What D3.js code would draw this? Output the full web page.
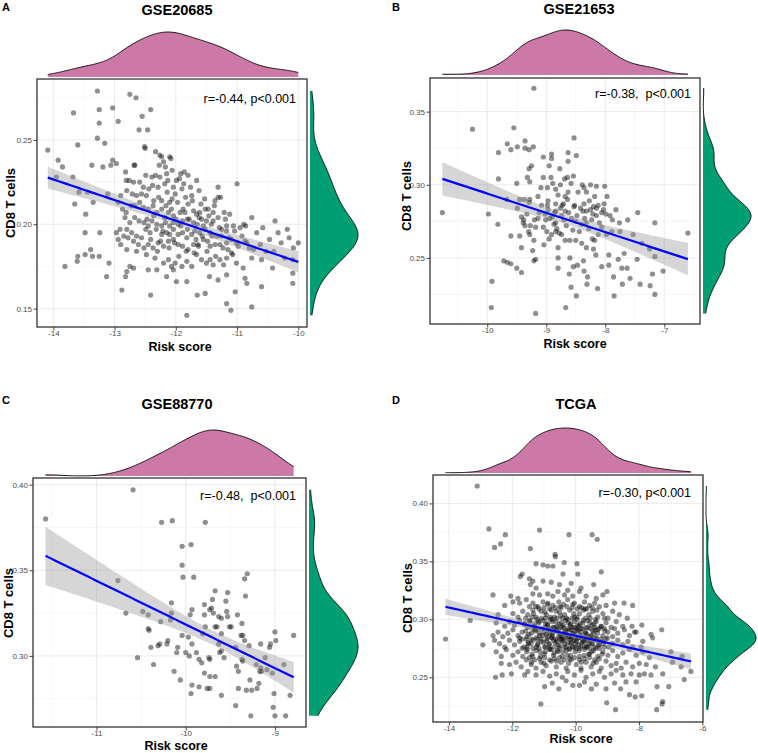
<!DOCTYPE html>
<html><head><meta charset="utf-8">
<script src="https://cdn.jsdelivr.net/npm/d3@7"></script>
<style>body{margin:0;background:#fff}svg{display:block;font-family:"Liberation Sans",Arial,Helvetica,sans-serif}</style>
</head><body><svg id="c" width="758" height="753"></svg>
<script>
// ---------------- data ----------------
const panelLetters = ["A", "B", "C", "D"];
const panelTitles = ["GSE20685", "GSE21653", "GSE88770", "TCGA"];
const statLabels = ["r=-0.44, p<0.001", "r=-0.38,  p<0.001", "r=-0.48,  p<0.001", "r=-0.30, p<0.001"];
const xAxisTitle = "Risk score";
const yAxisTitle = "CD8 T cells";

const xTicksA = [-14, -13, -12, -11, -10];
const yTicksA = [0.15, 0.20, 0.25];
const xTicksB = [-10, -9, -8, -7];
const yTicksB = [0.25, 0.30, 0.35];
const xTicksC = [-11, -10, -9];
const yTicksC = [0.30, 0.35, 0.40];
const xTicksD = [-14, -12, -10, -8, -6];
const yTicksD = [0.25, 0.30, 0.35, 0.40];

// [Risk score, CD8 T cells]
const gse20685Points = [[-13.28,0.279],[-12.75,0.277],[-12.65,0.275],[-13.25,0.268],[-13.03,0.269],[-13.67,0.266],[-12.41,0.268],[-12.94,0.261],[-13.25,0.260],[-12.55,0.264],[-12.60,0.256],[-12.46,0.256],[-13.28,0.251],[-13.16,0.248],[-13.60,0.247],[-14.09,0.244],[-12.51,0.246],[-12.50,0.245],[-12.33,0.243],[-13.92,0.238],[-13.85,0.234],[-13.37,0.235],[-13.19,0.234],[-13.06,0.235],[-13.03,0.238],[-12.97,0.236],[-12.68,0.235],[-12.67,0.235],[-12.26,0.241],[-12.23,0.240],[-12.10,0.240],[-12.08,0.239],[-12.20,0.237],[-12.27,0.235],[-12.17,0.234],[-12.06,0.232],[-12.15,0.230],[-12.26,0.228],[-12.13,0.226],[-12.39,0.228],[-12.82,0.231],[-12.76,0.226],[-12.81,0.226],[-12.69,0.225],[-12.59,0.225],[-12.49,0.229],[-12.53,0.222],[-12.38,0.223],[-12.29,0.222],[-11.94,0.227],[-11.92,0.230],[-11.86,0.231],[-11.66,0.226],[-11.62,0.220],[-11.74,0.217],[-11.90,0.221],[-11.84,0.216],[-12.04,0.222],[-12.01,0.218],[-12.10,0.213],[-12.23,0.214],[-12.36,0.214],[-12.48,0.217],[-12.56,0.218],[-12.64,0.217],[-12.71,0.218],[-12.80,0.220],[-12.90,0.217],[-13.11,0.218],[-13.35,0.213],[-13.44,0.219],[-13.58,0.219],[-13.65,0.212],[-13.68,0.228],[-13.95,0.228],[-13.47,0.206],[-12.94,0.213],[-12.87,0.209],[-12.81,0.207],[-12.73,0.211],[-12.67,0.211],[-12.59,0.213],[-12.53,0.210],[-12.45,0.209],[-12.37,0.211],[-12.31,0.207],[-12.23,0.209],[-12.18,0.204],[-12.12,0.207],[-12.04,0.205],[-11.93,0.207],[-11.85,0.207],[-11.80,0.212],[-11.71,0.208],[-11.66,0.206],[-11.61,0.207],[-11.52,0.209],[-11.47,0.209],[-11.39,0.207],[-11.31,0.204],[-11.31,0.222],[-11.00,0.224],[-11.12,0.206],[-11.17,0.199],[-11.39,0.202],[-11.50,0.202],[-11.58,0.203],[-11.65,0.200],[-11.71,0.201],[-11.81,0.203],[-11.89,0.202],[-11.96,0.200],[-12.04,0.201],[-12.10,0.199],[-12.17,0.201],[-12.23,0.199],[-12.31,0.200],[-12.39,0.202],[-12.45,0.199],[-12.52,0.201],[-12.60,0.202],[-12.67,0.204],[-12.75,0.201],[-12.83,0.204],[-12.91,0.197],[-12.80,0.197],[-12.72,0.195],[-12.64,0.193],[-12.56,0.192],[-12.49,0.197],[-12.42,0.195],[-12.32,0.197],[-12.23,0.194],[-12.15,0.195],[-12.10,0.194],[-12.04,0.197],[-11.96,0.194],[-11.89,0.195],[-11.82,0.192],[-11.74,0.194],[-11.67,0.191],[-11.61,0.195],[-11.52,0.197],[-11.44,0.195],[-11.33,0.193],[-11.25,0.197],[-11.17,0.196],[-11.06,0.199],[-10.95,0.198],[-10.86,0.199],[-10.76,0.204],[-10.58,0.198],[-10.38,0.202],[-10.18,0.197],[-10.00,0.189],[-10.08,0.186],[-10.09,0.179],[-10.09,0.171],[-10.42,0.174],[-10.60,0.179],[-10.73,0.185],[-10.87,0.190],[-11.01,0.189],[-11.09,0.191],[-11.17,0.189],[-11.28,0.188],[-11.36,0.188],[-11.44,0.187],[-11.55,0.191],[-11.63,0.187],[-11.71,0.188],[-11.80,0.185],[-11.89,0.187],[-11.96,0.188],[-12.04,0.191],[-12.12,0.190],[-12.20,0.187],[-12.29,0.189],[-12.37,0.186],[-12.45,0.188],[-12.52,0.186],[-12.61,0.188],[-12.69,0.190],[-12.78,0.192],[-12.85,0.193],[-12.94,0.191],[-12.97,0.195],[-13.24,0.195],[-13.48,0.195],[-13.39,0.185],[-13.25,0.181],[-13.36,0.181],[-13.60,0.181],[-13.61,0.178],[-13.81,0.175],[-13.48,0.182],[-13.09,0.177],[-12.90,0.188],[-12.80,0.185],[-12.64,0.184],[-12.48,0.182],[-12.34,0.180],[-12.20,0.177],[-12.12,0.179],[-12.07,0.175],[-12.01,0.177],[-11.90,0.175],[-11.82,0.178],[-11.74,0.175],[-11.66,0.182],[-11.58,0.179],[-11.50,0.177],[-11.44,0.179],[-11.39,0.176],[-11.28,0.179],[-11.22,0.176],[-11.17,0.180],[-11.09,0.183],[-11.01,0.177],[-10.90,0.174],[-10.87,0.168],[-10.84,0.165],[-10.76,0.180],[-10.60,0.163],[-11.03,0.160],[-11.17,0.170],[-11.31,0.167],[-11.45,0.169],[-11.52,0.159],[-11.65,0.158],[-11.82,0.166],[-11.99,0.166],[-12.15,0.169],[-12.04,0.173],[-12.31,0.173],[-12.45,0.173],[-12.69,0.174],[-12.75,0.175],[-12.80,0.172],[-12.82,0.169],[-12.88,0.161],[-13.13,0.169],[-12.41,0.158],[-11.82,0.146],[-11.17,0.153],[-11.10,0.149],[-10.76,0.151],[-11.31,0.216],[-11.36,0.214],[-10.09,0.165],[-10.33,0.195],[-10.53,0.184],[-10.89,0.200],[-10.84,0.189],
[-12.44,0.221],[-12.36,0.205],[-12.28,0.216],[-12.21,0.196],[-12.14,0.219],[-12.07,0.209],[-12.02,0.189],[-11.97,0.213],[-11.92,0.199],[-11.87,0.224],[-11.83,0.184],[-11.78,0.203],[-11.73,0.214],[-11.69,0.196],[-11.64,0.188],[-11.59,0.212],[-11.55,0.199],[-11.49,0.184],[-11.46,0.205],[-11.41,0.193],[-11.35,0.181],[-11.29,0.198],[-11.23,0.186],[-11.19,0.203],[-11.13,0.192],[-11.07,0.182],[-11.04,0.196],[-10.98,0.187],[-12.33,0.229],[-12.25,0.190],[-12.18,0.224],[-12.11,0.186],[-12.06,0.215],[-12.00,0.203],[-11.95,0.181],[-11.88,0.209],[-11.81,0.197],[-11.76,0.222],[-11.70,0.183],[-11.62,0.204],[-11.57,0.193],[-11.53,0.215],[-11.48,0.190],[-11.42,0.200],[-11.37,0.211],[-11.26,0.193],[-11.21,0.207],[-11.15,0.185],[-12.41,0.191],[-12.30,0.184],[-12.47,0.203],[-12.16,0.211],[-11.99,0.226],[-11.80,0.229],[-11.27,0.216],[-10.92,0.193],[-10.80,0.186],[-10.68,0.195],[-10.62,0.188],[-10.47,0.191],[-10.40,0.184],[-10.28,0.189],[-10.22,0.180],[-10.15,0.192]];

const gse21653Points = [[-9.21,0.366],[-10.25,0.338],[-9.55,0.339],[-9.66,0.328],[-9.60,0.324],[-9.49,0.326],[-9.36,0.330],[-9.36,0.325],[-9.29,0.324],[-9.22,0.326],[-9.81,0.322],[-8.53,0.332],[-9.05,0.319],[-8.91,0.321],[-8.91,0.318],[-8.63,0.322],[-8.49,0.320],[-8.77,0.311],[-8.63,0.316],[-9.29,0.311],[-9.25,0.313],[-8.95,0.313],[-9.81,0.304],[-9.50,0.301],[-9.32,0.305],[-9.28,0.302],[-9.05,0.305],[-8.92,0.305],[-8.89,0.301],[-8.76,0.300],[-8.69,0.304],[-8.64,0.305],[-8.58,0.301],[-8.54,0.306],[-8.39,0.300],[-8.36,0.298],[-8.25,0.300],[-8.15,0.299],[-8.01,0.299],[-7.97,0.292],[-8.18,0.292],[-8.32,0.295],[-8.46,0.295],[-8.63,0.295],[-8.68,0.292],[-8.80,0.293],[-8.84,0.297],[-8.98,0.298],[-9.09,0.298],[-9.14,0.292],[-9.28,0.290],[-9.37,0.290],[-9.29,0.288],[-8.97,0.289],[-8.98,0.286],[-8.84,0.287],[-8.71,0.287],[-8.53,0.285],[-8.36,0.287],[-8.32,0.282],[-8.20,0.285],[-8.15,0.284],[-8.03,0.283],[-8.15,0.279],[-8.23,0.276],[-8.32,0.274],[-8.40,0.273],[-8.50,0.275],[-8.57,0.277],[-8.68,0.282],[-8.74,0.279],[-8.84,0.274],[-8.87,0.273],[-8.94,0.277],[-9.01,0.276],[-9.14,0.277],[-9.18,0.271],[-9.27,0.272],[-9.38,0.276],[-9.42,0.278],[-9.39,0.274],[-9.36,0.272],[-9.33,0.280],[-9.45,0.290],[-9.98,0.280],[-10.76,0.281],[-9.82,0.273],[-9.60,0.265],[-9.49,0.284],[-9.45,0.265],[-9.42,0.257],[-9.28,0.266],[-9.21,0.262],[-9.23,0.255],[-9.18,0.249],[-9.21,0.248],[-9.72,0.248],[-9.66,0.247],[-9.60,0.246],[-9.50,0.243],[-9.42,0.240],[-9.92,0.234],[-9.93,0.216],[-9.18,0.212],[-8.67,0.216],[-9.04,0.259],[-8.95,0.263],[-8.91,0.266],[-8.84,0.268],[-8.78,0.267],[-8.74,0.266],[-8.68,0.262],[-8.60,0.262],[-8.50,0.262],[-8.40,0.260],[-8.32,0.257],[-8.22,0.263],[-8.18,0.262],[-8.12,0.266],[-8.06,0.271],[-7.98,0.266],[-7.89,0.268],[-7.75,0.268],[-7.76,0.274],[-7.88,0.276],[-7.99,0.280],[-8.06,0.281],[-8.12,0.286],[-8.27,0.289],[-8.64,0.290],[-7.53,0.266],[-7.45,0.281],[-7.16,0.274],[-6.60,0.267],[-7.38,0.260],[-7.25,0.256],[-7.16,0.251],[-7.02,0.241],[-7.20,0.239],[-7.24,0.231],[-7.16,0.225],[-7.41,0.232],[-7.58,0.236],[-7.71,0.232],[-7.72,0.243],[-7.63,0.243],[-7.46,0.249],[-7.68,0.253],[-7.78,0.249],[-7.94,0.252],[-8.06,0.244],[-7.94,0.245],[-7.86,0.237],[-7.85,0.224],[-8.13,0.229],[-8.31,0.232],[-8.30,0.237],[-8.36,0.241],[-8.37,0.248],[-8.47,0.245],[-8.54,0.244],[-8.61,0.239],[-8.80,0.243],[-8.80,0.250],[-8.80,0.257],[-8.60,0.250],[-8.49,0.224],[-8.58,0.230],[-8.16,0.252],[-8.20,0.256],[-9.02,0.280],[-8.84,0.282],[-9.67,0.290],
[-9.12,0.281],[-9.05,0.271],[-8.97,0.283],[-8.90,0.278],[-8.82,0.270],[-8.76,0.284],[-8.70,0.276],[-8.62,0.281],[-8.55,0.269],[-8.48,0.279],[-8.42,0.284],[-8.35,0.277],[-8.28,0.270],[-8.21,0.280],[-8.10,0.274],[-8.02,0.287],[-9.20,0.276],[-9.08,0.286],[-8.86,0.281],[-8.66,0.272],[-8.52,0.286],[-8.44,0.268],[-8.38,0.282],[-8.25,0.283],[-7.92,0.279],[-7.82,0.283],[-7.62,0.276],[-9.30,0.268],[-8.99,0.268],[-8.73,0.286]];

const gse88770Points = [[-11.57,0.380],[-10.59,0.397],[-10.27,0.378],[-10.15,0.379],[-9.78,0.378],[-9.94,0.365],[-10.04,0.364],[-10.04,0.353],[-10.03,0.346],[-9.91,0.346],[-9.31,0.348],[-9.34,0.345],[-9.33,0.335],[-10.76,0.344],[-10.67,0.325],[-10.48,0.326],[-10.42,0.324],[-10.16,0.331],[-10.16,0.325],[-10.28,0.320],[-10.17,0.321],[-10.42,0.316],[-9.95,0.324],[-9.93,0.327],[-9.79,0.330],[-9.73,0.327],[-9.71,0.328],[-9.67,0.338],[-9.70,0.333],[-9.79,0.324],[-9.69,0.325],[-9.63,0.323],[-9.60,0.322],[-9.53,0.337],[-9.55,0.332],[-9.54,0.326],[-9.53,0.323],[-9.51,0.317],[-9.49,0.317],[-9.42,0.324],[-9.37,0.319],[-9.36,0.312],[-9.38,0.312],[-9.34,0.309],[-9.29,0.306],[-9.16,0.307],[-9.06,0.305],[-9.00,0.314],[-8.99,0.309],[-8.79,0.312],[-8.83,0.277],[-8.88,0.265],[-9.00,0.265],[-9.02,0.270],[-9.01,0.278],[-9.03,0.290],[-9.09,0.292],[-9.16,0.293],[-9.15,0.291],[-9.21,0.295],[-9.11,0.299],[-9.28,0.286],[-9.20,0.281],[-9.26,0.280],[-9.32,0.280],[-9.27,0.265],[-9.44,0.271],[-9.41,0.281],[-9.41,0.291],[-9.43,0.294],[-9.36,0.297],[-9.37,0.298],[-9.44,0.305],[-9.57,0.299],[-9.60,0.303],[-9.60,0.277],[-9.67,0.288],[-9.73,0.281],[-9.76,0.281],[-9.85,0.282],[-9.79,0.290],[-9.73,0.288],[-9.73,0.298],[-9.74,0.299],[-9.85,0.298],[-9.82,0.296],[-9.88,0.302],[-9.81,0.313],[-9.78,0.317],[-9.67,0.317],[-9.65,0.317],[-9.60,0.313],[-9.63,0.307],[-9.62,0.302],[-10.00,0.302],[-10.10,0.302],[-10.09,0.305],[-10.04,0.312],[-9.97,0.311],[-9.93,0.307],[-10.06,0.286],[-10.13,0.291],[-10.21,0.307],[-10.20,0.309],[-10.31,0.306],[-10.29,0.307],[-10.39,0.305],[-10.36,0.295],[-10.54,0.299],[-10.41,0.315],[-9.94,0.278],[-9.96,0.300],[-8.90,0.295],[-9.05,0.307],[-9.18,0.284],[-9.17,0.291],[-9.93,0.283]];

const tcgaPoints = [[-13.11,0.415],[-14.11,0.283],[-13.33,0.299],[-12.74,0.378],[-12.22,0.373],[-12.37,0.365],[-12.56,0.362],[-11.14,0.377],[-10.21,0.373],[-9.48,0.373],[-9.32,0.369],[-11.43,0.361],[-10.65,0.356],[-10.64,0.354],[-10.36,0.349],[-9.96,0.348],[-11.25,0.348],[-11.03,0.347],[-10.88,0.346],[-10.72,0.346],[-9.19,0.341],[-9.93,0.339],[-10.40,0.339],[-11.69,0.339],[-11.75,0.337],[-11.46,0.335],[-12.61,0.321],[-12.05,0.320],[-9.43,0.330],[-9.01,0.324],[-8.47,0.314],[-8.20,0.312],[-8.62,0.304],[-8.22,0.294],[-7.91,0.295],[-7.62,0.287],[-7.57,0.284],[-7.28,0.291],[-6.99,0.272],[-6.64,0.268],[-6.36,0.255],[-6.57,0.248],[-6.67,0.259],[-6.94,0.263],[-7.06,0.242],[-7.43,0.242],[-7.25,0.229],[-7.27,0.227],[-7.44,0.222],[-7.91,0.234],[-8.12,0.233],[-8.30,0.235],[-8.74,0.222],[-9.02,0.228],[-8.58,0.240],[-11.10,0.227],[-9.04,0.240],[-9.50,0.240],[-9.88,0.243],[-10.53,0.240],[-10.98,0.242],[-11.61,0.252],[-12.32,0.252],[-12.53,0.250],[-12.93,0.278],
[-11.43,0.330],[-11.25,0.327],[-10.77,0.332],[-10.51,0.330],[-10.25,0.325],[-9.83,0.327],[-10.14,0.331],[-11.35,0.333],[-11.03,0.333],
[-11.82,0.318],[-11.35,0.322],[-11.14,0.321],[-10.88,0.322],[-10.72,0.320],[-10.56,0.324],[-10.35,0.321],[-10.09,0.320],[-9.88,0.324],[-9.67,0.320],[-9.35,0.318],[-9.14,0.321],
[-12.24,0.312],[-11.98,0.315],[-11.77,0.314],[-11.56,0.317],[-11.35,0.314],[-11.19,0.311],[-11.03,0.315],[-10.88,0.314],[-10.72,0.312],[-10.53,0.315],[-10.38,0.313],[-10.25,0.317],[-10.04,0.314],[-9.88,0.311],[-9.72,0.315],[-9.56,0.312],[-9.40,0.314],[-9.25,0.311],[-9.04,0.312],[-8.77,0.314],
[-12.45,0.304],[-11.98,0.305],[-11.82,0.302],[-11.67,0.307],[-11.51,0.304],[-11.35,0.308],[-11.25,0.302],[-11.09,0.307],[-10.93,0.304],[-10.77,0.308],[-10.67,0.302],[-10.51,0.306],[-10.35,0.304],[-10.19,0.308],[-10.04,0.302],[-9.88,0.305],[-9.75,0.308],[-9.58,0.304],[-9.46,0.307],[-9.30,0.302],[-9.14,0.305],[-8.98,0.301],[-8.83,0.307],[-8.37,0.301],
[-12.51,0.297],[-12.24,0.294],[-12.09,0.298],[-11.93,0.295],[-11.77,0.299],[-11.61,0.296],[-11.46,0.298],[-11.30,0.294],[-11.16,0.297],[-11.03,0.299],[-10.88,0.295],[-10.74,0.298],[-10.59,0.294],[-10.46,0.297],[-10.32,0.299],[-10.17,0.295],[-10.04,0.298],[-9.90,0.294],[-9.77,0.297],[-9.62,0.299],[-9.48,0.295],[-9.35,0.298],[-9.19,0.294],[-9.04,0.297],[-8.88,0.293],[-8.72,0.298],[-8.51,0.294],[-8.09,0.289],
[-12.61,0.286],[-12.45,0.289],[-12.30,0.285],[-12.14,0.288],[-11.98,0.291],[-11.82,0.286],[-11.69,0.289],[-11.54,0.285],[-11.40,0.288],[-11.27,0.291],[-11.14,0.286],[-11.00,0.289],[-10.88,0.285],[-10.74,0.288],[-10.61,0.291],[-10.48,0.286],[-10.35,0.289],[-10.21,0.285],[-10.09,0.288],[-9.96,0.291],[-9.83,0.286],[-9.69,0.289],[-9.56,0.285],[-9.43,0.288],[-9.30,0.291],[-9.14,0.286],[-8.98,0.289],[-8.83,0.285],[-8.67,0.288],[-8.46,0.291],[-8.30,0.286],[-8.14,0.289],[-8.77,0.292],
[-12.56,0.282],[-12.40,0.279],[-12.24,0.276],[-12.09,0.282],[-11.93,0.278],[-11.77,0.281],[-11.63,0.276],[-11.49,0.279],[-11.35,0.282],[-11.21,0.278],[-11.09,0.281],[-10.95,0.276],[-10.82,0.279],[-10.69,0.282],[-10.56,0.278],[-10.42,0.281],[-10.30,0.276],[-10.16,0.279],[-10.04,0.282],[-9.90,0.278],[-9.77,0.281],[-9.64,0.276],[-9.51,0.279],[-9.37,0.282],[-9.25,0.278],[-9.11,0.281],[-8.95,0.276],[-8.83,0.279],[-8.67,0.282],[-8.51,0.278],[-8.35,0.281],[-8.20,0.276],[-7.93,0.276],[-7.88,0.281],
[-12.51,0.272],[-12.35,0.268],[-12.19,0.274],[-11.98,0.269],[-11.82,0.272],[-11.67,0.268],[-11.53,0.274],[-11.38,0.270],[-11.25,0.273],[-11.11,0.268],[-10.96,0.272],[-10.82,0.274],[-10.70,0.269],[-10.56,0.272],[-10.42,0.268],[-10.30,0.273],[-10.16,0.269],[-10.02,0.272],[-9.88,0.268],[-9.72,0.274],[-9.58,0.270],[-9.44,0.273],[-9.30,0.268],[-9.14,0.272],[-8.98,0.269],[-8.83,0.273],[-8.67,0.268],[-8.51,0.271],[-8.30,0.274],[-8.09,0.269],[-7.88,0.272],[-7.67,0.267],
[-12.35,0.262],[-12.09,0.261],[-11.88,0.263],[-11.72,0.259],[-11.56,0.265],[-11.40,0.261],[-11.25,0.258],[-11.09,0.263],[-10.93,0.260],[-10.77,0.264],[-10.61,0.259],[-10.46,0.263],[-10.30,0.258],[-10.14,0.265],[-9.98,0.261],[-9.83,0.258],[-9.67,0.263],[-9.51,0.259],[-9.35,0.263],[-9.19,0.258],[-9.04,0.264],[-8.88,0.260],[-8.72,0.262],[-8.56,0.258],[-8.41,0.263],[-8.20,0.259],[-7.99,0.262],[-7.77,0.261],[-7.48,0.259],
[-12.03,0.253],[-11.51,0.255],[-11.25,0.252],[-11.03,0.255],[-10.82,0.251],[-10.61,0.253],[-10.42,0.250],[-10.25,0.255],[-10.04,0.252],[-9.83,0.256],[-9.67,0.250],[-9.46,0.253],[-9.25,0.255],[-9.09,0.250],[-8.88,0.253],[-8.72,0.256],[-8.51,0.252],[-8.25,0.253],[-7.99,0.252],[-7.83,0.253],[-7.62,0.252],[-7.25,0.253],
[-10.74,0.245],[-10.30,0.247],[-10.09,0.243],[-9.72,0.246],[-9.35,0.244],[-8.77,0.245],[-8.41,0.246],[-8.09,0.246],
[-11.46,0.311],[-11.16,0.309],[-11.00,0.310],[-10.82,0.309],[-10.64,0.310],[-10.46,0.310],[-10.28,0.311],[-10.11,0.310],[-9.95,0.309],[-9.81,0.310],[-9.65,0.309],[-9.48,0.310],[-9.33,0.308],
[-11.58,0.301],[-11.37,0.302],[-11.22,0.300],[-10.95,0.301],[-10.80,0.300],[-10.59,0.301],[-10.42,0.301],[-10.25,0.300],[-10.11,0.301],[-9.96,0.302],[-9.69,0.301],[-9.54,0.301],[-9.37,0.300],[-9.09,0.301],
[-11.51,0.293],[-11.35,0.292],[-11.19,0.292],[-10.95,0.293],[-10.80,0.292],[-10.67,0.293],[-10.53,0.292],[-10.38,0.293],[-10.25,0.292],[-10.11,0.293],[-9.98,0.292],[-9.83,0.292],[-9.67,0.293],[-9.54,0.292],[-9.39,0.293],[-9.25,0.292],[-9.09,0.292],
[-11.77,0.284],[-11.56,0.283],[-11.40,0.283],[-11.25,0.284],[-11.09,0.283],[-10.91,0.283],[-10.75,0.284],[-10.61,0.283],[-10.46,0.283],[-10.30,0.284],[-10.14,0.283],[-9.98,0.283],[-9.83,0.284],[-9.67,0.283],[-9.51,0.283],[-9.35,0.284],[-9.19,0.283],[-9.04,0.283],
[-11.69,0.275],[-11.54,0.276],[-11.35,0.275],[-11.16,0.275],[-10.98,0.276],[-10.82,0.275],[-10.67,0.276],[-10.51,0.275],[-10.35,0.276],[-10.19,0.275],[-10.04,0.276],[-9.88,0.275],[-9.72,0.276],[-9.56,0.275],[-9.40,0.276],[-9.25,0.275],[-9.09,0.276],
[-11.46,0.267],[-11.30,0.265],[-11.14,0.266],[-10.98,0.267],[-10.82,0.265],[-10.67,0.266],[-10.51,0.267],[-10.35,0.265],[-10.19,0.266],[-10.04,0.267],[-9.88,0.265],[-9.72,0.266],[-9.56,0.267],[-9.40,0.265],[-9.25,0.266],
[-11.62,0.296],[-11.48,0.287],[-11.41,0.279],[-11.33,0.305],[-11.28,0.290],[-11.21,0.283],[-11.17,0.298],[-11.12,0.272],[-11.06,0.292],[-11.01,0.280],[-10.97,0.306],[-10.93,0.287],[-10.89,0.296],[-10.84,0.278],[-10.80,0.302],[-10.76,0.284],[-10.71,0.293],[-10.68,0.271],[-10.63,0.298],[-10.59,0.281],[-10.55,0.289],[-10.50,0.277],[-10.47,0.303],[-10.43,0.285],[-10.39,0.295],[-10.34,0.279],[-10.31,0.290],[-10.27,0.269],[-10.23,0.297],[-10.18,0.283],[-10.14,0.291],[-10.10,0.276],[-10.06,0.305],[-10.02,0.287],[-9.97,0.281],[-9.93,0.295],[-9.89,0.273],[-9.85,0.289],[-9.80,0.280],[-9.76,0.299],[-9.71,0.284],[-9.66,0.277],[-9.61,0.293],[-9.57,0.270],[-9.52,0.286],[-9.47,0.279],[-9.42,0.296],[-9.36,0.275],[-9.31,0.288],[-9.24,0.281],[-9.16,0.270],[-9.08,0.290],
[-11.55,0.272],[-11.44,0.299],[-11.36,0.268],[-11.24,0.276],[-11.15,0.288],[-11.08,0.301],[-10.99,0.270],[-10.91,0.281],[-10.86,0.291],[-10.78,0.274],[-10.73,0.286],[-10.65,0.280],[-10.61,0.307],[-10.57,0.273],[-10.52,0.296],[-10.45,0.282],[-10.41,0.272],[-10.36,0.288],[-10.29,0.301],[-10.25,0.280],[-10.20,0.274],[-10.16,0.296],[-10.12,0.285],[-10.04,0.293],[-9.99,0.275],[-9.95,0.300],[-9.91,0.284],[-9.83,0.277],[-9.78,0.292],[-9.73,0.269],[-9.69,0.288],[-9.63,0.282],[-9.55,0.297],[-9.49,0.272],[-9.44,0.284],[-9.38,0.291],[-9.28,0.278],[-9.20,0.294],[-9.12,0.279],[-9.00,0.284],
[-11.70,0.283],[-11.58,0.290],[-11.50,0.280],[-11.30,0.296],[-11.19,0.279],[-11.04,0.286],[-10.95,0.296],[-10.82,0.288],[-10.74,0.300],[-10.66,0.290],[-10.53,0.285],[-10.44,0.293],[-10.37,0.283],[-10.28,0.287],[-10.21,0.291],[-10.13,0.280],[-10.08,0.288],[-10.00,0.279],[-9.92,0.290],[-9.86,0.296],[-9.74,0.281],[-9.65,0.287],[-9.58,0.279],[-9.46,0.290],[-9.34,0.283],[-11.26,0.311],[-10.88,0.313],[-10.49,0.311],[-10.09,0.313],[-9.70,0.309],[-11.40,0.263],[-11.00,0.262],[-10.60,0.264],[-10.22,0.262],[-9.82,0.263],[-9.45,0.262]];

// ---------------- layout (pixels) ----------------
const layouts = [
  {frame:[37,307,79,327], xDom:[-14.266,-9.858], yDom:[0.1391,0.2861], topBase:77, topPeak:32, rightBase:310, rightPeak:358,
   title:[177,15], letter:[2,11], xTitle:[180,351], yTitle:[15,203], stat:[296,103], tickLabY:336},
  {frame:[430,700,78,324], xDom:[-10.97,-6.395], yDom:[0.2048,0.373], topBase:75, topPeak:30, rightBase:703, rightPeak:751,
   title:[579,14], letter:[392,11], xTitle:[575,348], yTitle:[411,196], stat:[691,98], tickLabY:333},
  {frame:[33,306,478,727], xDom:[-11.711,-8.652], yDom:[0.2585,0.4039], topBase:476, topPeak:430, rightBase:309, rightPeak:358,
   title:[177,409], letter:[2,404], xTitle:[176,750], yTitle:[13,603], stat:[296,500], tickLabY:736},
  {frame:[433,703,475,722], xDom:[-14.505,-5.978], yDom:[0.2114,0.4245], topBase:473, topPeak:428, rightBase:706, rightPeak:756,
   title:[576,409], letter:[392,404], xTitle:[581,743], yTitle:[412,598], stat:[691,497], tickLabY:731}
];

const panels = [
  {pts: gse20685Points, xTicks: xTicksA, yTicks: yTicksA},
  {pts: gse21653Points, xTicks: xTicksB, yTicks: yTicksB},
  {pts: gse88770Points, xTicks: xTicksC, yTicks: yTicksC},
  {pts: tcgaPoints, xTicks: xTicksD, yTicks: yTicksD}
];

const svg = d3.select("#c");
const PINK = "#CC79A7", GREEN = "#009E73";

function bwNrd0(v) {
  const s = v.slice().sort(d3.ascending);
  const sd = d3.deviation(s);
  const iqr = d3.quantile(s, 0.75) - d3.quantile(s, 0.25);
  const lo = Math.min(sd, iqr / 1.34);
  return 0.9 * lo * Math.pow(s.length, -0.2);
}
function kde(values, n) {
  const bw = bwNrd0(values);
  const [mn, mx] = d3.extent(values);
  const grid = d3.range(n + 1).map(i => mn + (mx - mn) * i / n);
  return grid.map(g => ({v: g, d: d3.mean(values, x => Math.exp(-0.5 * ((g - x) / bw) ** 2)) / (bw * Math.sqrt(2 * Math.PI))}));
}
function minors(ticks, dom) {
  const step = ticks[1] - ticks[0];
  const out = [];
  for (let t = ticks[0] - step / 2; t <= dom[1] + 1e-9; t += step) if (t >= dom[0]) out.push(t);
  return out;
}

panels.forEach((p, i) => {
  const L = layouts[i];
  const [fx0, fx1, fy0, fy1] = L.frame;
  const x = d3.scaleLinear().domain(L.xDom).range([fx0, fx1]);
  const y = d3.scaleLinear().domain(L.yDom).range([fy1, fy0]);
  const g = svg.append("g");
  const clipId = "clip" + i;
  svg.append("clipPath").attr("id", clipId).append("rect")
    .attr("x", fx0).attr("y", fy0).attr("width", fx1 - fx0).attr("height", fy1 - fy0);

  // grid
  const grid = g.append("g");
  minors(p.xTicks, L.xDom).forEach(t => grid.append("line").attr("x1", x(t)).attr("x2", x(t)).attr("y1", fy0).attr("y2", fy1).attr("stroke", "#F2F2F2").attr("stroke-width", 0.6));
  minors(p.yTicks, L.yDom).forEach(t => grid.append("line").attr("y1", y(t)).attr("y2", y(t)).attr("x1", fx0).attr("x2", fx1).attr("stroke", "#F2F2F2").attr("stroke-width", 0.6));
  p.xTicks.forEach(t => grid.append("line").attr("x1", x(t)).attr("x2", x(t)).attr("y1", fy0).attr("y2", fy1).attr("stroke", "#EBEBEB").attr("stroke-width", 1));
  p.yTicks.forEach(t => grid.append("line").attr("y1", y(t)).attr("y2", y(t)).attr("x1", fx0).attr("x2", fx1).attr("stroke", "#EBEBEB").attr("stroke-width", 1));

  // points
  const plot = g.append("g").attr("clip-path", `url(#${clipId})`);
  plot.selectAll("circle").data(p.pts).join("circle")
    .attr("cx", d => x(d[0])).attr("cy", d => y(d[1])).attr("r", 2.6)
    .attr("fill", "#000").attr("fill-opacity", 0.44);

  // linear fit with 95% CI
  const xs = p.pts.map(d => d[0]), ys = p.pts.map(d => d[1]);
  const n = xs.length, mx = d3.mean(xs), my = d3.mean(ys);
  let sxx = 0, sxy = 0;
  for (let k = 0; k < n; k++) { sxx += (xs[k] - mx) ** 2; sxy += (xs[k] - mx) * (ys[k] - my); }
  const b = sxy / sxx, a = my - b * mx;
  let sse = 0;
  for (let k = 0; k < n; k++) sse += (ys[k] - a - b * xs[k]) ** 2;
  const s = Math.sqrt(sse / (n - 2));
  const tq = 1.96 + 2.4 / (n - 2);
  const [xmin, xmax] = d3.extent(xs);
  const fit = d3.range(81).map(k => {
    const xv = xmin + (xmax - xmin) * k / 80;
    const yv = a + b * xv;
    const se = s * Math.sqrt(1 / n + (xv - mx) ** 2 / sxx);
    return {x: xv, y: yv, lo: yv - tq * se, hi: yv + tq * se};
  });
  plot.append("path").datum(fit)
    .attr("d", d3.area().x(d => x(d.x)).y0(d => y(d.lo)).y1(d => y(d.hi)))
    .attr("fill", "#999999").attr("fill-opacity", 0.4);
  plot.append("path").datum(fit)
    .attr("d", d3.line().x(d => x(d.x)).y(d => y(d.y)))
    .attr("fill", "none").attr("stroke", "#0000FF").attr("stroke-width", 2.2);

  // frame
  g.append("rect").attr("x", fx0).attr("y", fy0).attr("width", fx1 - fx0).attr("height", fy1 - fy0)
    .attr("fill", "none").attr("stroke", "#333333").attr("stroke-width", 1.3);

  // axes
  const xa = g.append("g").attr("transform", `translate(0,${fy1})`)
    .call(d3.axisBottom(x).tickValues(p.xTicks).tickSize(3.5).tickPadding(2).tickFormat(d => String(d)));
  const ya = g.append("g").attr("transform", `translate(${fx0},0)`)
    .call(d3.axisLeft(y).tickValues(p.yTicks).tickSize(3.5).tickPadding(1.5).tickFormat(d3.format(".2f")));
  [xa, ya].forEach(ax => {
    ax.select(".domain").remove();
    ax.selectAll(".tick line").attr("stroke", "#333333").attr("stroke-width", 0.9);
    ax.selectAll(".tick text").attr("fill", "#4D4D4D").attr("font-size", 8).attr("font-family", "Liberation Sans, Arial, sans-serif");
  });
  xa.selectAll(".tick text").attr("dy", null).attr("y", L.tickLabY - fy1);

  // marginal densities
  const topD = kde(xs, 256);
  const dTop = d3.scaleLinear().domain([0, d3.max(topD, d => d.d)]).range([L.topBase, L.topPeak]);
  g.append("path").datum(topD)
    .attr("d", d3.area().x(d => x(d.v)).y0(L.topBase).y1(d => dTop(d.d)))
    .attr("fill", PINK);
  g.append("path").datum(topD)
    .attr("d", d3.line().x(d => x(d.v)).y(d => dTop(d.d)))
    .attr("fill", "none").attr("stroke", "#000").attr("stroke-width", 0.9);

  const rightD = kde(ys, 256);
  const dRight = d3.scaleLinear().domain([0, d3.max(rightD, d => d.d)]).range([L.rightBase, L.rightPeak]);
  g.append("path").datum(rightD)
    .attr("d", d3.area().y(d => y(d.v)).x0(L.rightBase).x1(d => dRight(d.d)))
    .attr("fill", GREEN);
  g.append("path").datum(rightD)
    .attr("d", d3.line().y(d => y(d.v)).x(d => dRight(d.d)))
    .attr("fill", "none").attr("stroke", "#000").attr("stroke-width", 0.9);

  // texts
  g.append("text").attr("x", L.stat[0]).attr("y", L.stat[1]).attr("text-anchor", "end")
    .attr("font-size", 12.5).attr("fill", "#000").style("white-space", "pre").text(statLabels[i]);
  g.append("text").attr("x", L.title[0]).attr("y", L.title[1]).attr("text-anchor", "middle")
    .attr("font-size", 14.5).attr("font-weight", "bold").text(panelTitles[i]);
  g.append("text").attr("x", L.letter[0]).attr("y", L.letter[1])
    .attr("font-size", 11).attr("font-weight", "bold").text(panelLetters[i]);
  g.append("text").attr("x", L.xTitle[0]).attr("y", L.xTitle[1]).attr("text-anchor", "middle")
    .attr("font-size", 12.5).attr("font-weight", "bold").text(xAxisTitle);
  g.append("text").attr("transform", `translate(${L.yTitle[0]},${L.yTitle[1]}) rotate(-90)`).attr("text-anchor", "middle")
    .attr("font-size", 13).attr("font-weight", "bold").text(yAxisTitle);
});
</script>
</body></html>
